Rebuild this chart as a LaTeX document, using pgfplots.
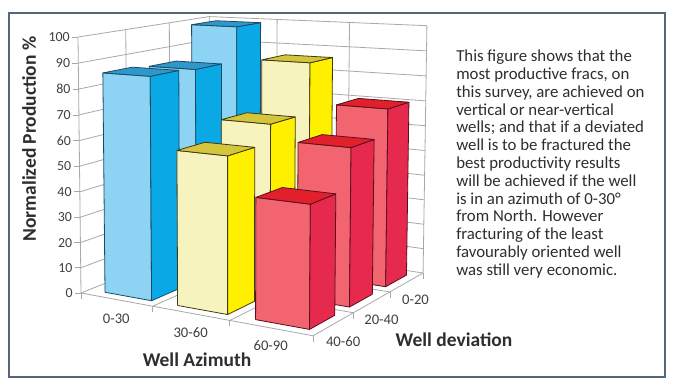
\documentclass[border=0pt]{standalone}
\usepackage{pgfplots}
\pgfplotsset{compat=1.18}
\usepackage{fontspec}
\setmainfont{Carlito}

\definecolor{bfront}{HTML}{8DD4F4}
\definecolor{bside}{HTML}{0AA9E6}
\definecolor{btop}{HTML}{2F98CB}
\definecolor{bedge}{HTML}{1B4A66}
\definecolor{yfront}{HTML}{F7F3BF}
\definecolor{yside}{HTML}{FFF000}
\definecolor{ytop}{HTML}{D5C53C}
\definecolor{yedge}{HTML}{3E3A10}
\definecolor{rfront}{HTML}{F2646F}
\definecolor{rside}{HTML}{E62A4E}
\definecolor{rtop}{HTML}{E2202C}
\definecolor{redge}{HTML}{5A0E1C}
\definecolor{gridc}{HTML}{A8A8A8}
\definecolor{txt}{HTML}{404040}
\definecolor{ttl}{HTML}{2E2E2E}
\definecolor{framec}{HTML}{56677C}

\pgfplotsset{
  table/proj/.style={row sep=\\,
    x expr={pu(\thisrow{a},\thisrow{b},\thisrow{c})},
    y expr={pv(\thisrow{a},\thisrow{b},\thisrow{c})}},
  gridl/.style={draw=gridc, line width=0.6pt},
}

% #1 azimuth cell, #2 deviation cell (0 = front), #3 value, #4 colour prefix
\newcommand{\cuboid}[4]{%
  \addplot[fill=#4front, draw=#4edge, line width=0.6pt, line join=round]
    table[row sep=\\, x expr={pu(#1+\thisrow{a},#2+\thisrow{b},#3*\thisrow{c})},
      y expr={pv(#1+\thisrow{a},#2+\thisrow{b},#3*\thisrow{c})}]
    {a b c\\ 0.22 0.18 0\\ 0.87 0.18 0\\ 0.87 0.18 1\\ 0.22 0.18 1\\ 0.22 0.18 0\\};
  \addplot[fill=#4side, draw=#4edge, line width=0.6pt, line join=round]
    table[row sep=\\, x expr={pu(#1+\thisrow{a},#2+\thisrow{b},#3*\thisrow{c})},
      y expr={pv(#1+\thisrow{a},#2+\thisrow{b},#3*\thisrow{c})}]
    {a b c\\ 0.87 0.18 0\\ 0.87 0.80 0\\ 0.87 0.80 1\\ 0.87 0.18 1\\ 0.87 0.18 0\\};
  \addplot[fill=#4top, draw=#4edge, line width=0.6pt, line join=round]
    table[row sep=\\, x expr={pu(#1+\thisrow{a},#2+\thisrow{b},#3*\thisrow{c})},
      y expr={pv(#1+\thisrow{a},#2+\thisrow{b},#3*\thisrow{c})}]
    {a b c\\ 0.22 0.18 1\\ 0.87 0.18 1\\ 0.87 0.80 1\\ 0.22 0.80 1\\ 0.22 0.18 1\\};
}

\begin{document}
\begin{tikzpicture}
\begin{axis}[x=0.75pt, y=0.75pt, xmin=0, xmax=680, ymin=0, ymax=386,
  hide axis, clip=false,
  declare function={
    ww(\X,\Y,\Z)=1-0.035*\X+0.047*\Y-0.0002*\Z;
    pu(\X,\Y,\Z)=(81+66.4*\X+52.7*\Y-0.0456*\Z)/ww(\X,\Y,\Z);
    pv(\X,\Y,\Z)=386-(293+2.5*\X-5.9*\Y-2.567*\Z)/ww(\X,\Y,\Z);
  }]
\fill[white] (axis cs:0,0) rectangle (axis cs:680,386);
\draw[framec, line width=1.5pt] (axis cs:9,9) rectangle (axis cs:665,373);

% walls: horizontal gridlines
\pgfplotsinvokeforeach{0,10,...,100}{
  \addplot[gridl] table[proj] {a b c\\ 0 0 #1\\ 0 3 #1\\ 3 3 #1\\};
}
% left wall verticals
\pgfplotsinvokeforeach{0,1,2,3}{
  \addplot[gridl] table[proj] {a b c\\ 0 #1 0\\ 0 #1 100\\};
}
% back wall verticals
\pgfplotsinvokeforeach{1,2,3}{
  \addplot[gridl] table[proj] {a b c\\ #1 3 0\\ #1 3 100\\};
}
% floor
\pgfplotsinvokeforeach{1,2}{
  \addplot[gridl] table[proj] {a b c\\ #1 0 0\\ #1 3 0\\};
  \addplot[gridl] table[proj] {a b c\\ 0 #1 0\\ 3 #1 0\\};
}
\addplot[gridl] table[proj] {a b c\\ 0 0 0\\ 3 0 0\\ 3 3 0\\};

% vertical axis ticks and labels
\pgfplotsinvokeforeach{0,10,...,100}{
  \draw[gridc, line width=0.6pt] (axis cs:{pu(0,0,#1)},{pv(0,0,#1)}) -- (axis cs:{pu(0,0,#1)-6},{pv(0,0,#1)});
  \node[anchor=east, inner sep=0pt, text=txt, font=\fontsize{10.4}{12}\selectfont]
    at (axis cs:{pu(0,0,#1)-8},{pv(0,0,#1)}) {#1};
}
% azimuth ticks
\pgfplotsinvokeforeach{0,1,2,3}{
  \draw[gridc, line width=0.6pt] (axis cs:{pu(#1,0,0)},{pv(#1,0,0)}) -- ++(0pt,-4.5pt);
}
% deviation ticks
\pgfplotsinvokeforeach{1,2,3}{
  \draw[gridc, line width=0.6pt] (axis cs:{pu(3,#1,0)},{pv(3,#1,0)}) -- ++(0pt,-4.5pt);
}
% category labels
\node[text=txt, font=\fontsize{11}{13}\selectfont] at (axis cs:{pu(0.5,0,0)},{pv(0.5,0,0)-19}) {0-30};
\node[text=txt, font=\fontsize{11}{13}\selectfont] at (axis cs:{pu(1.5,0,0)},{pv(1.5,0,0)-19}) {30-60};
\node[text=txt, font=\fontsize{11}{13}\selectfont] at (axis cs:{pu(2.5,0,0)},{pv(2.5,0,0)-18}) {60-90};
\node[anchor=west, inner sep=0pt, text=txt, font=\fontsize{11}{13}\selectfont] at (axis cs:{pu(3,0.5,0)-8},{pv(3,0.5,0)-18}) {40-60};
\node[anchor=west, inner sep=0pt, text=txt, font=\fontsize{11}{13}\selectfont] at (axis cs:{pu(3,1.5,0)-8},{pv(3,1.5,0)-18}) {20-40};
\node[anchor=west, inner sep=0pt, text=txt, font=\fontsize{11}{13}\selectfont] at (axis cs:{pu(3,2.5,0)-5},{pv(3,2.5,0)-18}) {0-20};

% bars: back row (0-20) first, then 20-40, then front row (40-60)
\cuboid{0}{2}{99}{b}
\cuboid{1}{2}{86}{y}
\cuboid{2}{2}{70}{r}
\cuboid{0}{1}{85}{b}
\cuboid{1}{1}{66}{y}
\cuboid{2}{1}{60}{r}
\cuboid{0}{0}{86}{b}
\cuboid{1}{0}{59}{y}
\cuboid{2}{0}{45}{r}

% axis titles
\node[rotate=90, text=ttl, font=\bfseries\fontsize{14.6}{17}\selectfont] at (axis cs:29,247) {Normalized Production \%};
\node[text=ttl, font=\bfseries\fontsize{14.6}{17}\selectfont] at (axis cs:197,26) {Well Azimuth};
\node[text=ttl, font=\bfseries\fontsize{14.6}{17}\selectfont] at (axis cs:454,46) {Well deviation};

% annotation
\begin{scope}[every node/.style={anchor=base west, inner sep=0pt, text=ttl, font=\fontsize{12.6}{14}\selectfont}]
\node at (axis cs:456,324.00) {This figure shows that the};
\node at (axis cs:456,306.25) {most productive fracs, on};
\node at (axis cs:456,288.50) {this survey, are achieved on};
\node at (axis cs:456,270.75) {vertical or near-vertical};
\node at (axis cs:456,253.00) {wells; and that if a deviated};
\node at (axis cs:456,235.25) {well is to be fractured the};
\node at (axis cs:456,217.50) {best productivity results};
\node at (axis cs:456,199.75) {will be achieved if the well};
\node at (axis cs:456,182.00) {is in an azimuth of 0-30°};
\node at (axis cs:456,164.25) {from North. However};
\node at (axis cs:456,146.50) {fracturing of the least};
\node at (axis cs:456,128.75) {favourably oriented well};
\node at (axis cs:456,111.00) {was still very economic.};
\end{scope}
\end{axis}
\end{tikzpicture}
\end{document}
